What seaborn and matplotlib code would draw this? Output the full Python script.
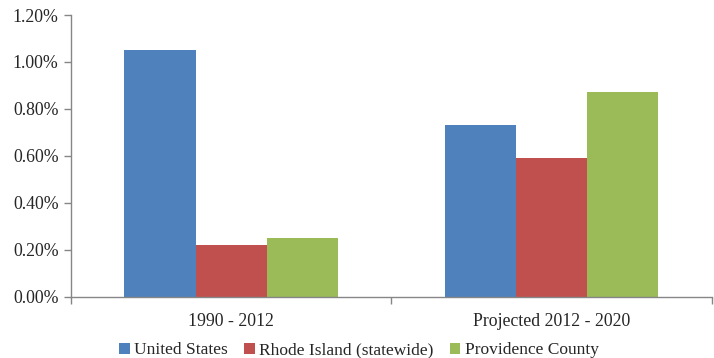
import matplotlib
matplotlib.use("Agg")
import matplotlib.pyplot as plt
import seaborn as sns
import pandas as pd
from matplotlib.patches import Patch
from matplotlib.ticker import FuncFormatter, FixedLocator

periods = ["1990 - 2012", "Projected 2012 - 2020"]
regions = ["United States", "Rhode Island (statewide)", "Providence County"]
us_growth = [1.05, 0.73]
ri_growth = [0.22, 0.59]
pc_growth = [0.25, 0.87]
y_ticks = [0.0, 0.2, 0.4, 0.6, 0.8, 1.0, 1.2]
colors = ["#4F81BD", "#C0504D", "#9BBB59"]

rows = []
for region, vals in zip(regions, [us_growth, ri_growth, pc_growth]):
    for period, v in zip(periods, vals):
        rows.append({"period": period, "region": region, "growth": v})
df = pd.DataFrame(rows)

sns.set_style("white")
plt.rcParams["font.family"] = ["Liberation Serif", "DejaVu Serif"]

fig = plt.figure(figsize=(7.14, 3.58), dpi=100)
ax = fig.add_axes([71 / 714, 1 - 296.7 / 358, (711.7 - 71) / 714, (296.7 - 15) / 358])

sns.barplot(data=df, x="period", y="growth", hue="region", order=periods,
            hue_order=regions, palette=colors, width=0.667, saturation=1,
            linewidth=0, errorbar=None, ax=ax, legend=False)

axis_grey = "#868686"
text_color = "#262626"
fs = 12.8
ax.set_xlim(-0.5, 1.5)
ax.set_ylim(0, 1.2)
ax.set_yticks(y_ticks)
ax.yaxis.set_major_formatter(FuncFormatter(lambda v, _: f"{v:.2f}%"))
ax.set_xlabel("")
ax.set_ylabel("")

for side in ["top", "right"]:
    ax.spines[side].set_visible(False)
for side in ["left", "bottom"]:
    ax.spines[side].set_color(axis_grey)
    ax.spines[side].set_linewidth(1.0)

ax.tick_params(axis="y", which="major", direction="out", length=5, width=1,
               color=axis_grey, labelsize=fs, labelcolor=text_color, pad=4, left=True)
ax.tick_params(axis="x", which="major", length=0, labelsize=fs,
               labelcolor=text_color, pad=12)
ax.xaxis.set_minor_locator(FixedLocator([-0.5, 0.5, 1.5]))
ax.tick_params(axis="x", which="minor", direction="out", length=5, width=1,
               color=axis_grey, bottom=True)

handles = [Patch(facecolor=c, edgecolor="none", label=r) for c, r in zip(colors, regions)]
fig.legend(handles=handles, loc="lower center", bbox_to_anchor=(0.503, -0.045), ncol=3,
           frameon=False, fontsize=12.5, handlelength=0.6, handleheight=0.6,
           handletextpad=0.25, columnspacing=0.95, labelcolor=text_color)

fig.savefig("out.png", dpi=100)
